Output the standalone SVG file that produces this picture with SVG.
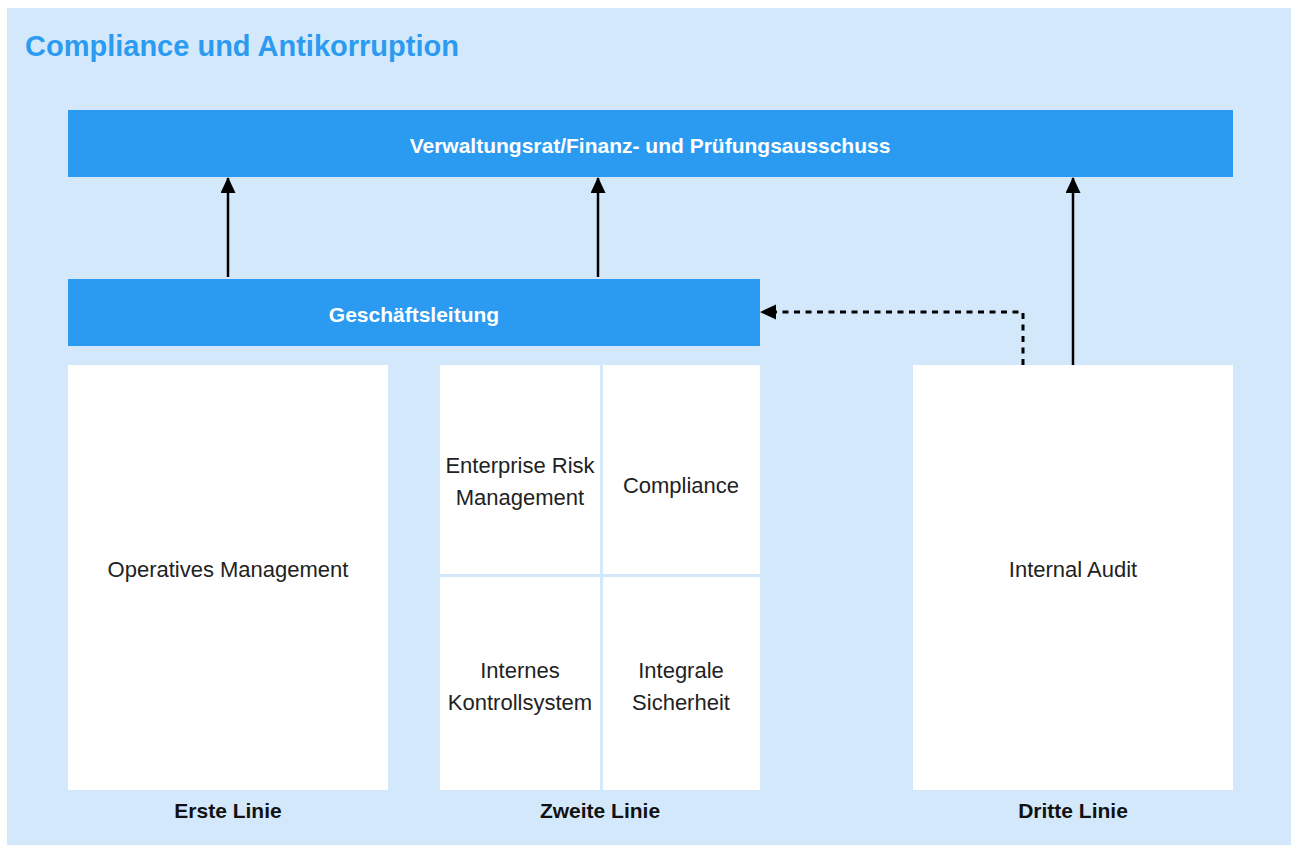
<svg xmlns="http://www.w3.org/2000/svg" width="1291" height="845" viewBox="0 0 1291 845">
<style>
.bar{fill:#2b9bf1}
.box{fill:#ffffff}
.hd{font-family:"Liberation Sans",Arial,sans-serif;font-weight:bold;font-size:21px;fill:#ffffff;text-anchor:middle}
.tx{font-family:"Liberation Sans",Arial,sans-serif;font-size:22px;fill:#222222;text-anchor:middle}
.lb{font-family:"Liberation Sans",Arial,sans-serif;font-weight:bold;font-size:21px;fill:#111111;text-anchor:middle}
.ttl{font-family:"Liberation Sans",Arial,sans-serif;font-weight:bold;font-size:29px;fill:#2b9bf1}
.ln{stroke:#000;stroke-width:2.5;fill:none}
.dl{stroke:#000;stroke-width:3;fill:none;stroke-dasharray:6 5.5}
</style>
<defs>
<marker id="ah" viewBox="0 0 16 15" refX="15" refY="7.5" markerWidth="16" markerHeight="15" markerUnits="userSpaceOnUse" orient="auto">
<path d="M0,0 L16,7.5 L0,15 Z" fill="#000"/>
</marker>
</defs>
<rect x="7" y="8" width="1284" height="837" fill="#d3e9fb"/>
<text class="ttl" x="25" y="56">Compliance und Antikorruption</text>
<g id="verwaltungsrat">
<rect class="bar" x="68" y="110" width="1165" height="67"/>
<text class="hd" x="650" y="153">Verwaltungsrat/Finanz- und Prüfungsausschuss</text>
</g>
<g id="geschaeftsleitung">
<rect class="bar" x="68" y="279" width="692" height="67"/>
<text class="hd" x="414" y="322">Geschäftsleitung</text>
</g>
<g id="operatives-management">
<rect class="box" x="68" y="365" width="320" height="425"/>
<text class="tx" x="228" y="577">Operatives Management</text>
</g>
<g id="erm">
<rect class="box" x="440" y="365" width="160" height="209"/>
<text class="tx" x="520" y="473">Enterprise Risk</text>
<text class="tx" x="520" y="505">Management</text>
</g>
<g id="compliance">
<rect class="box" x="603" y="365" width="157" height="209"/>
<text class="tx" x="681" y="493">Compliance</text>
</g>
<g id="iks">
<rect class="box" x="440" y="577" width="160" height="213"/>
<text class="tx" x="520" y="678">Internes</text>
<text class="tx" x="520" y="710">Kontrollsystem</text>
</g>
<g id="sicherheit">
<rect class="box" x="603" y="577" width="157" height="213"/>
<text class="tx" x="681" y="678">Integrale</text>
<text class="tx" x="681" y="710">Sicherheit</text>
</g>
<g id="internal-audit">
<rect class="box" x="913" y="365" width="320" height="425"/>
<text class="tx" x="1073" y="577">Internal Audit</text>
</g>
<g id="labels">
<text class="lb" x="228" y="818">Erste Linie</text>
<text class="lb" x="600" y="818">Zweite Linie</text>
<text class="lb" x="1073" y="818">Dritte Linie</text>
</g>
<g id="connectors">
<line class="ln" x1="228" y1="277" x2="228" y2="178" marker-end="url(#ah)"/>
<line class="ln" x1="598" y1="277" x2="598" y2="178" marker-end="url(#ah)"/>
<line class="ln" x1="1073" y1="365" x2="1073" y2="178" marker-end="url(#ah)"/>
<polyline class="dl" points="1023,365 1023,312 770,312"/>
<path d="M776,304.5 L760,312 L776,319.5 Z" fill="#000"/>
</g>
</svg>
